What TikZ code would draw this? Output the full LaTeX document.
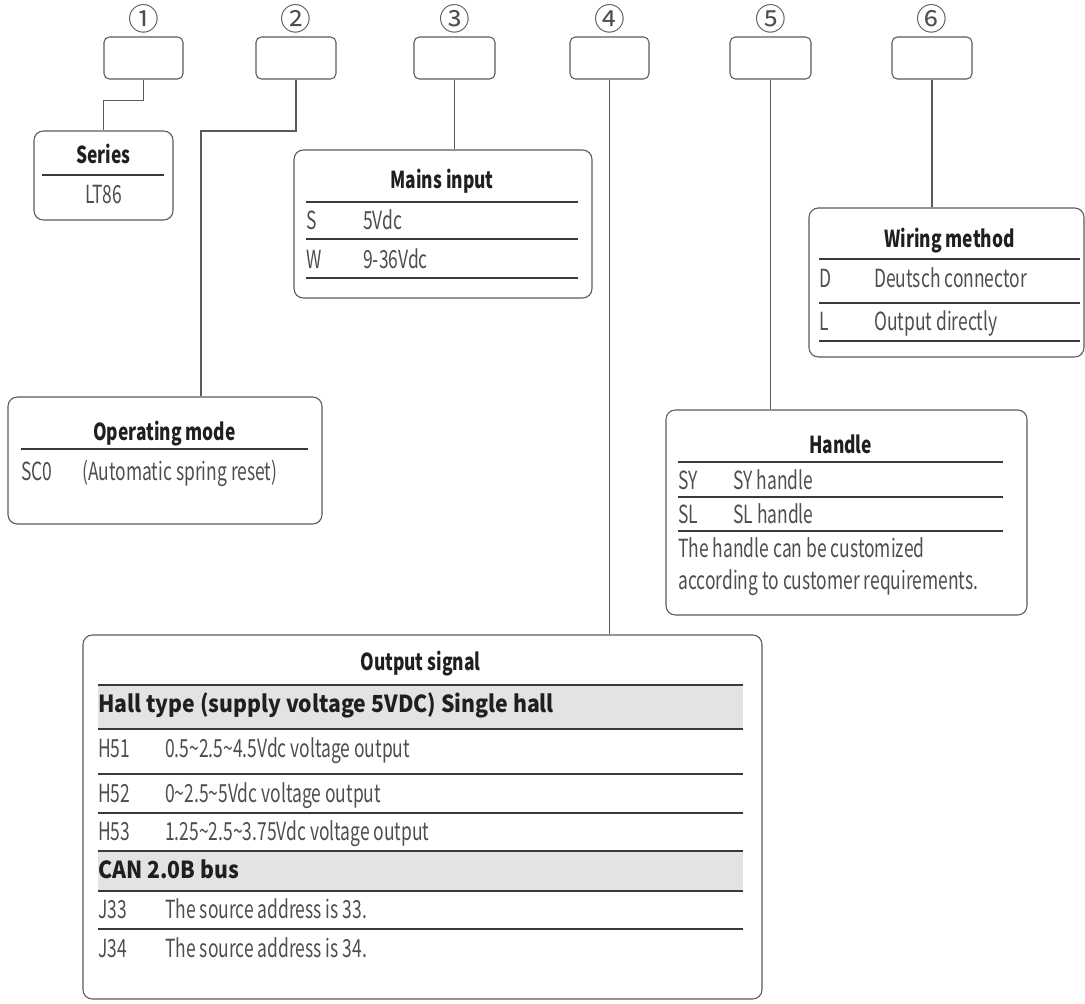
\documentclass[tikz,border=0pt]{standalone}
\usepackage{fontspec}
\setmainfont{Noto Sans CJK SC}[FakeStretch=0.70]
\newfontfamily\titlefont{Noto Sans CJK SC}[FakeStretch=0.745]
\newfontfamily\bandfont{Noto Sans CJK SC}[FakeStretch=0.905]
\newfontfamily\plainfont{Noto Sans CJK SC}
\usetikzlibrary{positioning,fit}

\definecolor{linegray}{HTML}{5A5A5A}
\definecolor{rulegray}{HTML}{3A3A3A}
\definecolor{bandgray}{HTML}{E2E3E4}
\definecolor{textgray}{HTML}{4E4E4E}

\tikzset{
  codebox/.style={draw=linegray, line width=0.8pt, rounded corners=4pt, inner sep=0pt},
  infobox/.style={draw=linegray, line width=0.8pt, rounded corners=7pt, inner sep=0pt},
  wire/.style={draw=linegray, line width=0.8pt},
  rowline/.style={draw=rulegray, line width=0.9pt},
  numlabel/.style={font=\plainfont\fontsize{23}{25}\selectfont, text=textgray, inner sep=0pt},
  boxtitle/.style={font=\titlefont\bfseries\fontsize{17.5}{20}\selectfont, text=black!88, anchor=base, inner sep=0pt},
  bandtitle/.style={font=\bandfont\bfseries\fontsize{17.6}{20}\selectfont, text=black!88, anchor=base west, inner sep=0pt},
  cell/.style={font=\fontsize{18.7}{21}\selectfont, text=textgray, anchor=base west, inner sep=0pt},
}

\begin{document}
\begin{tikzpicture}[x=0.75pt,y=-0.75pt]
\useasboundingbox (0,0) rectangle (1085,1003);

% code boxes and their numbers
\foreach \n/\l/\r/\c in {1/104/183/①, 2/256/336/②, 3/414/495/③, 4/570/649/④, 5/730/811/⑤, 6/892/972/⑥}{
  \node[codebox, fit={(\l,37) (\r,79)}] (code\n) {};
  \node[numlabel] (num\n) at (code\n.north |- 0,19) {\c};
}

% Series
\node[infobox, fit={(34,131) (173,220)}] (series) {};
\node[boxtitle] (seriesT) at (103.5,163) {Series};
\draw[rowline] (42,175) -- (164,175);
\node[cell, anchor=base] (seriesV) at (103.5,203) {LT86};

% Operating mode
\node[infobox, fit={(8,397) (322,524)}] (mode) {};
\node[boxtitle] (modeT) at (164.5,440) {Operating mode};
\draw[rowline] (21,449) -- (308,449);
\node[cell] (modeA) at (21,480) {SC0};
\node[cell] (modeB) at (82,480) {(Automatic spring reset)};

% Mains input
\node[infobox, fit={(294,150) (592,298)}] (mains) {};
\node[boxtitle] (mainsT) at (442,188) {Mains input};
\foreach \y in {202,239,278} \draw[rowline] (306,\y) -- (578,\y);
\node[cell] (mainsS) at (306,229) {S};
\node[cell] (mainsSV) at (363,229) {5Vdc};
\node[cell] (mainsW) at (306,268) {W};
\node[cell] (mainsWV) at (363,268) {9-36Vdc};

% Wiring method
\node[infobox, fit={(809,208) (1084,357)}] (wiring) {};
\node[boxtitle] (wiringT) at (949.5,247) {Wiring method};
\foreach \y in {259,303,341} \draw[rowline] (819,\y) -- (1080,\y);
\node[cell] (wiringD) at (819,287) {D};
\node[cell] (wiringDV) at (874,287) {Deutsch connector};
\node[cell] (wiringL) at (819,330) {L};
\node[cell] (wiringLV) at (874,330) {Output directly};

% Handle
\node[infobox, fit={(666,410) (1027,615)}] (handle) {};
\node[boxtitle] (handleT) at (840.5,453) {Handle};
\foreach \y in {462,497,531} \draw[rowline] (678,\y) -- (1003,\y);
\node[cell] (handleSY) at (678,489) {SY};
\node[cell] (handleSYV) at (733,489) {SY handle};
\node[cell] (handleSL) at (678,523) {SL};
\node[cell] (handleSLV) at (733,523) {SL handle};
\node[cell] (handleN1) at (678,557) {The handle can be customized};
\node[cell] (handleN2) at (678,589) {according to customer requirements.};

% Output signal
\node[infobox, fit={(83,635) (762,999)}] (outsig) {};
\fill[bandgray] (98,685) rectangle (743,729);
\fill[bandgray] (98,851) rectangle (743,891);
\foreach \y in {685,729,774,813,851,891,929} \draw[rowline] (98,\y) -- (743,\y);
\node[boxtitle] (outsigT) at (420.5,670) {Output signal};
\node[bandtitle] (hallT) at (98,712) {Hall type (supply voltage 5VDC) Single hall};
\node[cell] (h51) at (98,757) {H51};
\node[cell] (h51V) at (165,757) {0.5\char`~2.5\char`~4.5Vdc voltage output};
\node[cell] (h52) at (98,802) {H52};
\node[cell] (h52V) at (165,802) {0\char`~2.5\char`~5Vdc voltage output};
\node[cell] (h53) at (98,840) {H53};
\node[cell] (h53V) at (165,840) {1.25\char`~2.5\char`~3.75Vdc voltage output};
\node[bandtitle] (canT) at (98,878) {CAN 2.0B bus};
\node[cell] (j33) at (98,918) {J33};
\node[cell] (j33V) at (165,918) {The source address is 33.};
\node[cell] (j34) at (98,957) {J34};
\node[cell] (j34V) at (165,957) {The source address is 34.};

% connectors
\coordinate (bend2) at (201,131);
\draw[wire] (code1.south) -- ++(0,21) -| (series.north);
\draw[wire] (code2.south) |- (bend2) -- (bend2 |- mode.north);
\draw[wire] (code3.south) -- (code3.south |- mains.north);
\draw[wire] (code4.south) -- (code4.south |- outsig.north);
\draw[wire] (code5.south) -- (code5.south |- handle.north);
\draw[wire] (code6.south) -- (code6.south |- wiring.north);
\end{tikzpicture}
\end{document}
